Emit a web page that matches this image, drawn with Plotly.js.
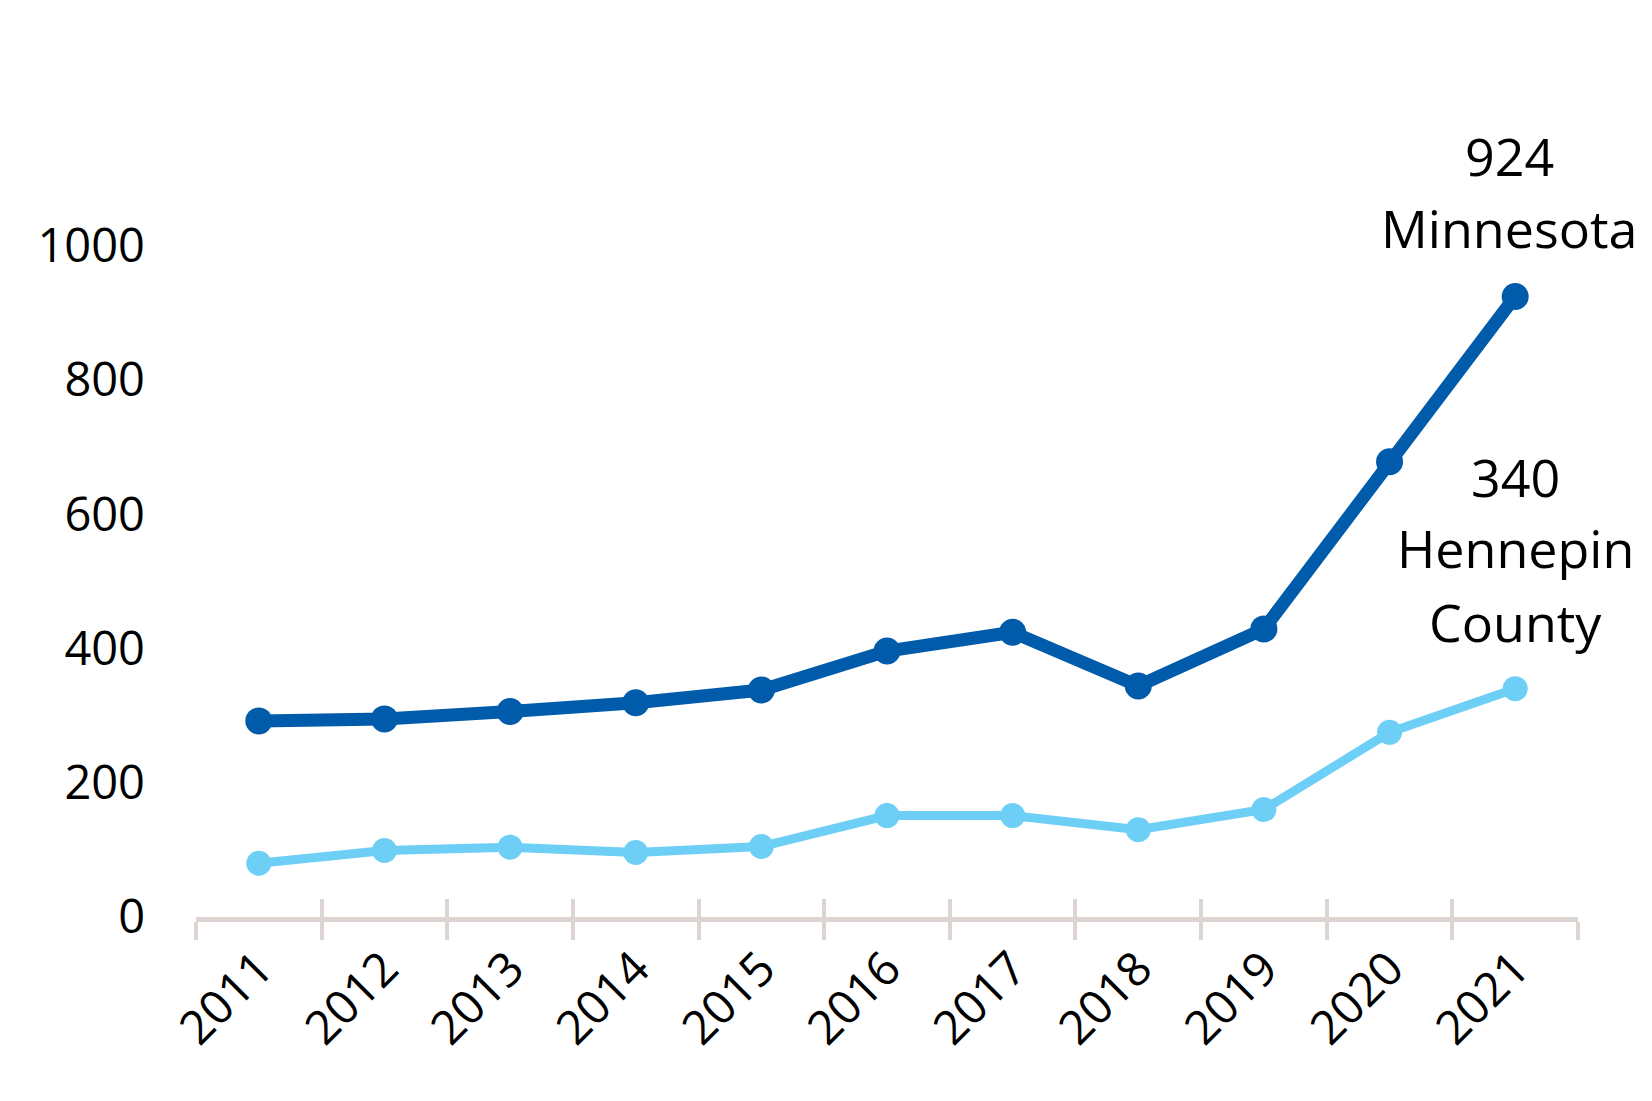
<!DOCTYPE html>
<html>
<head>
<meta charset="utf-8">
<script src="https://cdn.plot.ly/plotly-3.0.1.min.js"></script>
<style>html,body{margin:0;padding:0;background:#fff}#chart{width:1652px;height:1101px}</style>
</head>
<body>
<div id="chart"></div>
<script>
const years = ['2011','2012','2013','2014','2015','2016','2017','2018','2019','2020','2021'];
const minnesota = [292, 295, 306, 319, 338, 396, 424, 344, 429, 678, 924];
const hennepin = [80, 99, 104, 96, 105, 151, 151, 130, 160, 275, 340];
const yTicks = [0, 200, 400, 600, 800, 1000];
const labelMN = ['Minnesota'];
const labelHC = ['Hennepin', 'County'];

const dark = '#005CAB';
const light = '#6DCFF6';
const axisCol = '#DDD5D1';
const fontFam = '"Open Sans", "Noto Sans", sans-serif';

const traces = [
  {x: years, y: hennepin, type: 'scatter', mode: 'lines+markers', name: 'Hennepin County',
   line: {color: light, width: 9}, marker: {color: light, size: 25}, cliponaxis: false},
  {x: years, y: minnesota, type: 'scatter', mode: 'lines+markers', name: 'Minnesota',
   line: {color: dark, width: 13}, marker: {color: dark, size: 27}, cliponaxis: false},
  {x: years, y: minnesota, xaxis: 'x2', yaxis: 'y', type: 'scatter', mode: 'none',
   hoverinfo: 'skip', showlegend: false}
];

const last = years.length - 1;
function endLabel(lines, yval, xshift, shifts) {
  return lines.map((t, i) => ({
    x: last, y: yval, xref: 'x', yref: 'y', text: t, showarrow: false,
    xanchor: 'center', yanchor: 'middle', xshift: xshift, yshift: shifts[i],
    font: {family: fontFam, size: 52, color: '#000'}
  }));
}
const annotations = [].concat(
  endLabel([String(minnesota[last])].concat(labelMN), minnesota[last], -6, [141, 69]),
  endLabel([String(hennepin[last])].concat(labelHC), hennepin[last], 0, [212, 141, 67])
);

const layout = {
  width: 1652, height: 1101,
  margin: {l: 196, r: 74, t: 44, b: 184},
  paper_bgcolor: '#fff', plot_bgcolor: '#fff',
  showlegend: false,
  font: {family: fontFam, color: '#000', size: 47},
  xaxis: {
    type: 'category', categoryorder: 'array', categoryarray: years,
    range: [-0.5, years.length - 0.5],
    tickson: 'boundaries', ticks: 'outside', ticklen: 18, tickwidth: 4, tickcolor: axisCol,
    showline: true, linecolor: axisCol, linewidth: 5,
    showgrid: false, zeroline: false, tickangle: -45,
    tickfont: {family: fontFam, size: 47, color: '#000'}
  },
  xaxis2: {
    type: 'category', categoryorder: 'array', categoryarray: years,
    range: [-0.5, years.length - 0.5], overlaying: 'x', anchor: 'y', side: 'bottom',
    tickson: 'boundaries', ticks: 'inside', ticklen: 18, tickwidth: 4, tickcolor: axisCol,
    showline: false, showgrid: false, zeroline: false, showticklabels: false
  },
  yaxis: {
    range: [0, 1300], tickmode: 'array', tickvals: yTicks, ticktext: yTicks.map(String),
    showgrid: false, zeroline: false, showline: false, ticks: '',
    ticklabelstandoff: 50,
    tickfont: {family: fontFam, size: 47, color: '#000'}
  },
  annotations: annotations
};

Plotly.newPlot('chart', traces, layout, {displayModeBar: false, staticPlot: true});
</script>
</body>
</html>
